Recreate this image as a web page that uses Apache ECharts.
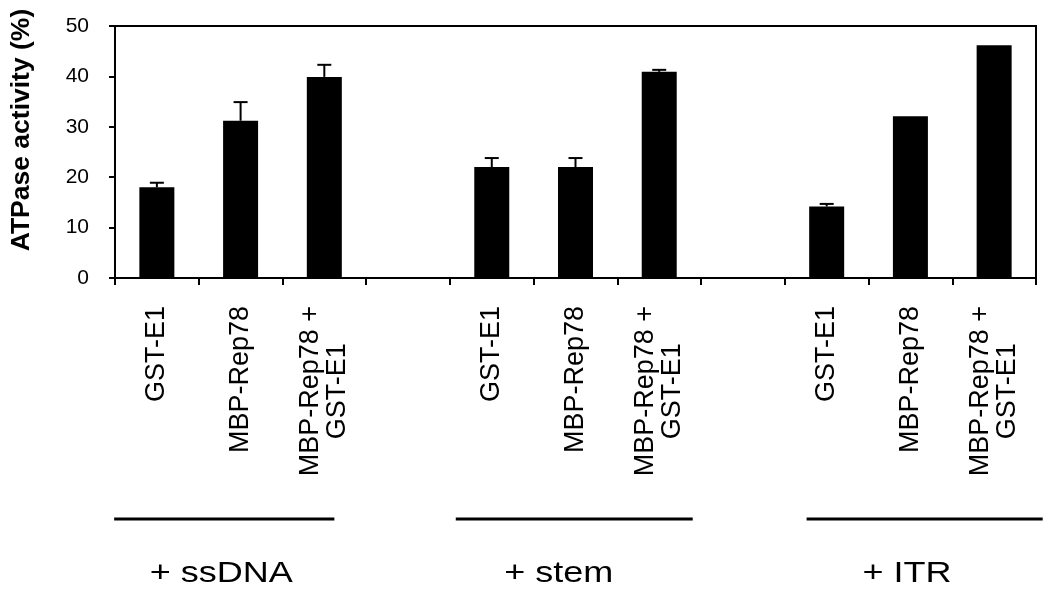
<!DOCTYPE html>
<html><head><meta charset="utf-8">
<script src="https://cdn.jsdelivr.net/npm/echarts@6/dist/echarts.min.js"></script>
<style>html,body{margin:0;padding:0;background:#fff}#c{width:1050px;height:605px}</style>
</head><body><div id="c"></div>
<script>
// ---- data ----
const categories = ['GST-E1', 'MBP-Rep78', 'MBP-Rep78 +\nGST-E1', '',
                    'GST-E1', 'MBP-Rep78', 'MBP-Rep78 +\nGST-E1', '',
                    'GST-E1', 'MBP-Rep78', 'MBP-Rep78 +\nGST-E1'];
const activity = [18.0, 31.2, 39.9, null, 22.0, 22.0, 40.9, null, 14.2, 32.1, 46.2];
const errorUp  = [0.9, 3.7, 2.4, null, 1.8, 1.8, 0.4, null, 0.5, 0, 0];
const yTicks = [0, 10, 20, 30, 40, 50];
const groupNames = ['+ ssDNA', '+ stem', '+ ITR'];

// ---- layout (category units) ----
const groupSpans = [[-0.51, 2.12], [3.57, 6.40], [7.76, 10.58]];
const groupLabelAt = [0.77, 4.80, 8.96];

const FONT = 'Liberation Sans, Arial, sans-serif';
const chart = echarts.init(document.getElementById('c'), null, {renderer: 'canvas'});

const errData = [];
activity.forEach((v, i) => { if (v != null) errData.push([i, v, errorUp[i]]); });

const option = {
  animation: false,
  backgroundColor: '#fff',
  grid: {left: 115, right: 14, top: 26, bottom: 327, show: true, borderColor: '#000', borderWidth: 2,
         containLabel: false, outerBoundsMode: 'none'},
  xAxis: {
    type: 'category',
    data: categories,
    axisLine: {lineStyle: {color: '#000', width: 2}},
    axisTick: {show: true, interval: 0, length: 7, lineStyle: {color: '#000', width: 2}},
    axisLabel: {
      interval: 0, rotate: 90, margin: 28, color: '#000', fontSize: 27, fontFamily: FONT,
      formatter: v => v ? v.split('\n').map(s => '{a|' + s + '}').join('\n') : '',
      rich: {a: {align: 'center', fontSize: 27, fontFamily: FONT, color: '#000', lineHeight: 27}}
    },
    splitLine: {show: false}
  },
  yAxis: {
    type: 'value',
    min: yTicks[0], max: yTicks[yTicks.length - 1], interval: yTicks[1] - yTicks[0],
    name: 'ATPase activity (%)',
    nameLocation: 'middle', nameGap: 80, nameRotate: 90,
    nameTextStyle: {fontSize: 26.5, fontWeight: 'bold', fontFamily: FONT, color: '#000', padding: [0, 0, 0, 44]},
    axisLine: {show: true, lineStyle: {color: '#000', width: 2}},
    axisTick: {show: true, length: 6, lineStyle: {color: '#000', width: 2}},
    axisLabel: {fontSize: 21, color: '#000', fontFamily: FONT, margin: 26},
    splitLine: {show: false}
  },
  series: [
    {type: 'bar', data: activity, barWidth: 35, itemStyle: {color: '#000'}, z: 2},
    {
      type: 'custom', data: errData, encode: {x: 0, y: 1}, z: 3,
      renderItem: function (params, api) {
        const i = api.value(0), v = api.value(1), e = api.value(2);
        if (!e) return null;
        const p0 = api.coord([i, v]);
        const p1 = api.coord([i, v + e]);
        return {type: 'group', children: [
          {type: 'line', shape: {x1: p0[0], y1: p0[1], x2: p1[0], y2: p1[1]}, style: {stroke: '#000', lineWidth: 2}},
          {type: 'line', shape: {x1: p1[0] - 7, y1: p1[1], x2: p1[0] + 7, y2: p1[1]}, style: {stroke: '#000', lineWidth: 2}}
        ]};
      }
    }
  ]
};
chart.setOption(option);

const c0 = chart.convertToPixel({xAxisIndex: 0}, 0);
const c1 = chart.convertToPixel({xAxisIndex: 0}, 1);
const step = c1 - c0;
const toX = u => c0 + u * step;
const yZero = chart.convertToPixel({yAxisIndex: 0}, 0);

const graphics = [];
groupNames.forEach((name, g) => {
  graphics.push({
    type: 'line', silent: true,
    shape: {x1: toX(groupSpans[g][0]), y1: yZero + 241, x2: toX(groupSpans[g][1]), y2: yZero + 241},
    style: {stroke: '#000', lineWidth: 3}
  });
  graphics.push({
    type: 'text', silent: true,
    x: toX(groupLabelAt[g]), y: yZero + 296, scaleX: 1.2, scaleY: 1,
    style: {text: name, fontSize: 30, fontFamily: FONT, fill: '#000',
            align: 'center', verticalAlign: 'middle', textAlign: 'center', textVerticalAlign: 'middle'}
  });
});
chart.setOption({graphic: graphics});
</script>
</body></html>
